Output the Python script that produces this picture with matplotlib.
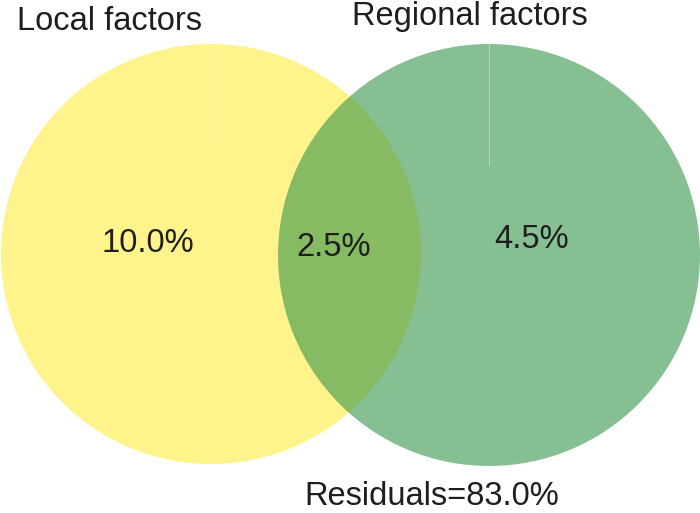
import matplotlib.pyplot as plt
from matplotlib.patches import Circle

plt.rcParams['font.family'] = ['Liberation Sans', 'DejaVu Sans']

set_names = ["Local factors", "Regional factors"]
only_local = 10.0
shared = 2.5
only_regional = 4.5
residuals = 83.0

fig = plt.figure(figsize=(7, 5.13), dpi=100)
ax = fig.add_axes([0, 0, 1, 1])
ax.set_xlim(0, 700)
ax.set_ylim(513, 0)
ax.set_aspect('equal')
ax.axis('off')

ax.add_patch(Circle((211, 254), 210, facecolor='#fff38c', edgecolor='none'))
ax.add_patch(Circle((489, 255), 211, facecolor=(53/255, 150/255, 73/255), alpha=0.6, edgecolor='none'))
# faint wedge seams at the top of each circle
ax.plot([211, 211], [44, 140], color='white', lw=0.6, alpha=0.35)
ax.plot([489, 489], [44, 165], color='white', lw=0.6, alpha=0.5)

fs = 23.5
tc = '#1e1e1e'
ax.text(17, 30, set_names[0], fontsize=fs, ha='left', va='baseline', color=tc)
ax.text(470, 25, set_names[1], fontsize=fs, ha='center', va='baseline', color=tc)
ax.text(148, 252, f"{only_local:.1f}%", fontsize=fs, ha='center', va='baseline', color=tc)
ax.text(334, 256, f"{shared:.1f}%", fontsize=fs, ha='center', va='baseline', color=tc)
ax.text(532, 248, f"{only_regional:.1f}%", fontsize=fs, ha='center', va='baseline', color=tc)
ax.text(432, 505, f"Residuals={residuals:.1f}%", fontsize=fs, ha='center', va='baseline', color=tc)

fig.savefig("out.png", dpi=100)
